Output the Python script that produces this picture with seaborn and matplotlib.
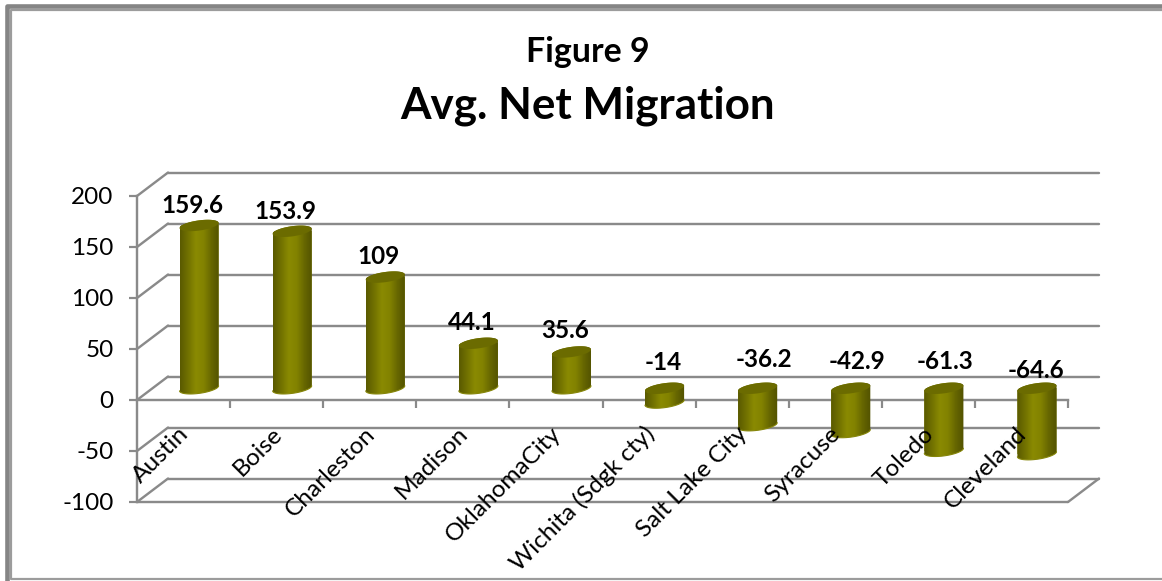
import numpy as np
import pandas as pd
import matplotlib
matplotlib.use("Agg")
import matplotlib.pyplot as plt
from matplotlib.colors import LinearSegmentedColormap
from matplotlib.lines import Line2D
from matplotlib.patches import Polygon
import seaborn as sns

# Chart values
cities = ["Austin", "Boise", "Charleston", "Madison", "OklahomaCity",
          "Wichita (Sdgk cty)", "Salt Lake City", "Syracuse", "Toledo", "Cleveland"]
net_migration = [159.6, 153.9, 109, 44.1, 35.6, -14, -36.2, -42.9, -61.3, -64.6]
value_labels = ["159.6", "153.9", "109", "44.1", "35.6", "-14", "-36.2", "-42.9", "-61.3", "-64.6"]
y_ticks = [-100, -50, 0, 50, 100, 150, 200]

# Hand placement of the value labels, in pixels
label_dx = [9, 9, 9, 9, 9, 14, 22, 22, 17, 14]
label_lift = [20, 20, 21, 21, 21, 26, 29, 27, 27, 18]

W, H = 1162, 581
GREY = "#8a8a8a"
sns.set_theme(style="white")
plt.rcParams["font.family"] = ["Lato", "DejaVu Sans"]
plt.rcParams["axes.unicode_minus"] = False

fig = plt.figure(figsize=(W / 100, H / 100), dpi=100, facecolor="white")
ax = fig.add_axes([137 / W, 1 - 502 / H, 931 / W, 306 / H])
ax.patch.set_alpha(0)

n = len(cities)
depth_x, depth_y = 0.333, 23.0   # offset of the back wall, in data units
px = 100 / 72                    # pixels per point

df = pd.DataFrame({"pos": np.arange(n) + depth_x / 2, "value": net_migration})
sns.barplot(data=df, x="pos", y="value", native_scale=True, width=0.42,
            color="#7d7d00", saturation=1, errorbar=None, ax=ax, zorder=2)
ax.set_xlim(-0.5, n - 0.5)
ax.set_ylim(-100, 200)
ax.set_xlabel("")
ax.set_ylabel("")

# Back wall, floor and side wall
xl, xr = ax.get_xlim()
line_kw = dict(color=GREY, lw=2.4 / px, clip_on=False, zorder=0.5, solid_capstyle="round")
for v in y_ticks:
    ax.plot([xl, xl + depth_x], [v, v + depth_y], **line_kw)
    ax.plot([xl + depth_x, xr + depth_x], [v + depth_y, v + depth_y], **line_kw)
ax.plot([xl, xr], [-100, -100], **line_kw)
ax.plot([xr, xr + depth_x], [-100, -100 + depth_y], **line_kw)

# Shade each bar as a cylinder standing half way into the chart depth
shade = LinearSegmentedColormap.from_list(
    "olive", ["#5a5a00", "#727200", "#8a8a02", "#828200", "#666600", "#525200"])
ry, shear = 5.0, 2.5
t_low = np.linspace(np.pi, 2 * np.pi, 40)
t_up = np.linspace(0, np.pi, 40)
t_all = np.linspace(0, 2 * np.pi, 80)
for bar in list(ax.patches):
    bar.set_y(bar.get_y() + depth_y / 2)
    bar.set_linewidth(0)
    left, w = bar.get_x(), bar.get_width()
    cx, rx = left + w / 2, w / 2
    y0, y1 = sorted([bar.get_y(), bar.get_y() + bar.get_height()])

    def ring(t, yc):
        return np.column_stack([cx + rx * np.cos(t), yc + ry * np.sin(t) + shear * np.cos(t)])

    outline = np.vstack([ring(t_low, y0), ring(t_up, y1)])
    body = Polygon(outline, closed=True, facecolor="none", edgecolor="none",
                   transform=ax.transData)
    ax.add_patch(body)
    bar.set_clip_path(body)
    img = ax.imshow(np.linspace(0, 1, 64)[None, :], cmap=shade, aspect="auto",
                    extent=(left, left + w, y0 - ry - shear, y1 + ry + shear),
                    interpolation="bilinear", zorder=2.05)
    img.set_clip_path(body)
    rim = ring(t_low, y0)
    ax.plot(rim[:, 0], rim[:, 1], color="#86860a", lw=0.8, zorder=2.1, clip_on=False)
    ax.add_patch(Polygon(ring(t_all, y1), closed=True, facecolor="#6b6b00",
                         edgecolor="none", zorder=2.2, clip_on=False))
ax.set_xlim(xl, xr)
ax.set_ylim(-100, 200)
ax.set_aspect("auto")

# Front axes
for side in ("top", "right"):
    ax.spines[side].set_visible(False)
ax.spines["bottom"].set_position(("data", 0))
for side in ("left", "bottom"):
    ax.spines[side].set_color(GREY)
    ax.spines[side].set_linewidth(2.4 / px)
    ax.spines[side].set_zorder(1)
ax.set_axisbelow(False)
ax.set_yticks(y_ticks)
ax.set_xticks(np.arange(n) + 0.5)
ax.set_xticklabels([])
ax.set_xticks(np.arange(n) + 0.02, labels=cities, minor=True)
ax.tick_params(axis="y", which="major", left=True, length=8 / px, width=2.2 / px,
               color=GREY, labelsize=17.5, labelcolor="black", pad=11)
ax.tick_params(axis="x", which="major", bottom=True, length=8 / px, width=2.2 / px,
               color=GREY)
ax.tick_params(axis="x", which="minor", bottom=False, length=0, pad=22,
               labelsize=17.6, labelcolor="black")
plt.setp(ax.get_yticklabels(), va="center_baseline")
plt.setp(ax.get_xticklabels(minor=True), rotation=45, ha="right", va="center",
         rotation_mode="anchor")

# Value labels
for i, (v, text) in enumerate(zip(net_migration, value_labels)):
    ax.annotate(text, xy=(i, max(v, 0) + depth_y / 2), xytext=(label_dx[i] / px, label_lift[i] / px),
                textcoords="offset points", ha="center", va="center",
                fontsize=17.5, fontweight="bold", color="black", zorder=5,
                annotation_clip=False)

# Titles
fig.text(588 / W, 1 - 52 / H, "Figure 9", ha="center", va="center",
         fontsize=24.4, fontweight="bold", color="black")
fig.text(588 / W, 1 - 105.5 / H, "Avg. Net Migration", ha="center", va="center",
         fontsize=31.7, fontweight="bold", color="black")


# Double border along the top, left and bottom of the canvas
def frame(xs, ys, lw, color):
    fig.add_artist(Line2D(np.array(xs) / W, 1 - np.array(ys) / H, color=color, lw=lw / px,
                          transform=fig.transFigure, solid_joinstyle="round"))


frame([6.5, 6.5, W], [H, 5.5, 5.5], 4.6, "#858585")
frame([W, 11, 11, W], [9.8, 9.8, 579, 579], 2.2, "#9c9c9c")

fig.savefig("out.png", dpi=100, facecolor="white")
